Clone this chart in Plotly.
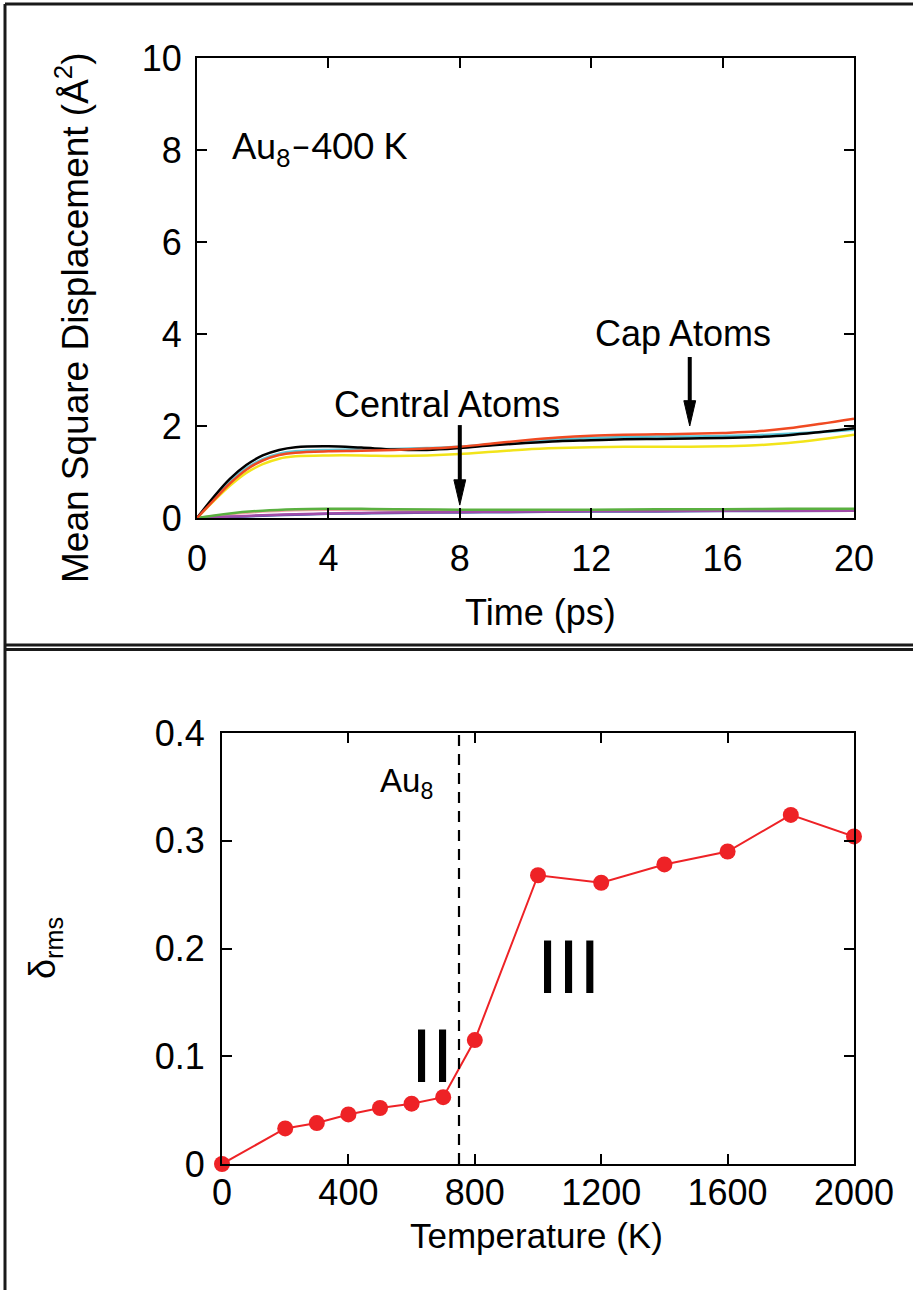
import plotly.graph_objects as go

W, H = 913, 1290
FONT = "Liberation Sans, Arial, sans-serif"

# --- Top panel: mean square displacement of Au8 at 400 K ---
time_ps = [0, 0.5, 1, 1.5, 2, 2.5, 3, 4, 5, 6, 7, 8, 9, 10, 11, 12, 13, 14, 15, 16, 17, 18, 19, 20]
msd_black = [0, 0.45, 0.85, 1.15, 1.36, 1.48, 1.54, 1.56, 1.53, 1.49, 1.48, 1.52, 1.58, 1.63, 1.67, 1.69, 1.71, 1.72, 1.73, 1.74, 1.76, 1.80, 1.87, 1.95]
msd_cyan = [0, 0.40, 0.78, 1.08, 1.28, 1.40, 1.45, 1.48, 1.49, 1.50, 1.52, 1.55, 1.61, 1.66, 1.71, 1.74, 1.76, 1.77, 1.77, 1.78, 1.80, 1.83, 1.87, 1.92]
msd_red = [0, 0.38, 0.75, 1.05, 1.25, 1.37, 1.42, 1.45, 1.46, 1.48, 1.51, 1.55, 1.62, 1.69, 1.75, 1.79, 1.81, 1.82, 1.83, 1.85, 1.88, 1.95, 2.05, 2.16]
msd_yellow = [0, 0.36, 0.70, 0.98, 1.17, 1.29, 1.34, 1.36, 1.36, 1.35, 1.36, 1.39, 1.44, 1.49, 1.52, 1.54, 1.55, 1.55, 1.55, 1.56, 1.58, 1.63, 1.71, 1.81]

time_core = [0, 1, 2, 3, 4, 5, 6, 8, 10, 12, 14, 16, 18, 20]
msd_green = [0, 0.10, 0.16, 0.19, 0.20, 0.20, 0.19, 0.18, 0.18, 0.18, 0.19, 0.19, 0.20, 0.20]
msd_pink = [0, 0.08, 0.14, 0.17, 0.18, 0.18, 0.17, 0.17, 0.17, 0.17, 0.17, 0.18, 0.18, 0.18]
msd_purple = [0, 0.03, 0.06, 0.08, 0.10, 0.11, 0.12, 0.13, 0.14, 0.15, 0.15, 0.16, 0.16, 0.16]
msd_blue = [0, 0.02, 0.05, 0.07, 0.09, 0.10, 0.11, 0.12, 0.13, 0.14, 0.14, 0.15, 0.15, 0.16]

# arrows marking the two atom groups: (time, tail value, tip value)
group_arrows = [(15, 3.5, 2.0), (8, 2.02, 0.28)]

# --- Bottom panel: delta_rms versus temperature ---
temperature_K = [0, 200, 300, 400, 500, 600, 700, 800, 1000, 1200, 1400, 1600, 1800, 2000]
delta_rms = [0, 0.033, 0.038, 0.046, 0.052, 0.056, 0.062, 0.115, 0.268, 0.261, 0.278, 0.290, 0.324, 0.304]
melt_T = 750

top_x_ticks = [0, 4, 8, 12, 16, 20]
top_y_ticks = [0, 2, 4, 6, 8, 10]
bot_x_ticks = [0, 400, 800, 1200, 1600, 2000]
bot_y_ticks = [0, 0.1, 0.2, 0.3, 0.4]
bot_y_labels = ["0", "0.1", "0.2", "0.3", "0.4"]

fig = go.Figure()

core_series = [
    (msd_pink, "#F4A0A8"),
    (msd_blue, "#4458A8"),
    (msd_purple, "#A04CA8"),
    (msd_green, "#5AB040"),
]
for vals, col in core_series:
    fig.add_trace(go.Scatter(x=time_core, y=vals, mode="lines", line=dict(color=col, width=2.5, shape="spline"),
                             xaxis="x", yaxis="y", showlegend=False))

cap_series = [
    (msd_yellow, "#F2E41A"),
    (msd_cyan, "#5CC6D8"),
    (msd_black, "#000000"),
    (msd_red, "#F04A22"),
]
for vals, col in cap_series:
    fig.add_trace(go.Scatter(x=time_ps, y=vals, mode="lines", line=dict(color=col, width=2.5, shape="spline"),
                             xaxis="x", yaxis="y", showlegend=False))

fig.add_trace(go.Scatter(x=temperature_K, y=delta_rms, mode="lines+markers",
                         line=dict(color="#EE2226", width=2),
                         marker=dict(color="#EE2226", size=16),
                         cliponaxis=False, xaxis="x2", yaxis="y2", showlegend=False))

# plot-area pixel boxes
TOP = dict(l=197, r=854, t=58, b=518)
BOT = dict(l=222, r=854, t=733, b=1164)

def dom_x(b):
    return [b["l"] / W, b["r"] / W]

def dom_y(b):
    return [1 - b["b"] / H, 1 - b["t"] / H]

axis_common = dict(showline=True, linecolor="black", linewidth=2, mirror="ticks", ticks="inside",
                   ticklen=10, tickwidth=1.5, tickcolor="black", showgrid=False, zeroline=False,
                   automargin=False, tickfont=dict(family=FONT, size=36, color="black"))

fig.update_layout(
    width=W, height=H, margin=dict(l=0, r=0, t=0, b=0, autoexpand=False), autosize=False,
    paper_bgcolor="white", plot_bgcolor="white",
    xaxis=dict(domain=dom_x(TOP), range=[0, 20], tickvals=top_x_ticks, anchor="y", ticklabelstandoff=8, **axis_common),
    yaxis=dict(domain=dom_y(TOP), range=[0, 10], tickvals=top_y_ticks, anchor="x", ticklabelstandoff=6, **axis_common),
    xaxis2=dict(domain=dom_x(BOT), range=[0, 2000], tickvals=bot_x_ticks, anchor="y2", ticklabelstandoff=-4, **axis_common),
    yaxis2=dict(domain=dom_y(BOT), range=[0, 0.4], tickvals=bot_y_ticks, ticktext=bot_y_labels, anchor="x2",
                ticklabelstandoff=8, **axis_common),
)

# panel frames
frame = dict(color="#1a1a1a", width=3)
fig.add_shape(type="line", xref="paper", yref="paper", x0=5 / W, x1=1, y0=1 - 4 / H, y1=1 - 4 / H, line=frame)
fig.add_shape(type="line", xref="paper", yref="paper", x0=5 / W, x1=5 / W, y0=0, y1=1 - 4 / H, line=frame)
fig.add_shape(type="line", xref="paper", yref="paper", x0=5 / W, x1=1, y0=1 - 645 / H, y1=1 - 645 / H, line=frame)
fig.add_shape(type="line", xref="paper", yref="paper", x0=5 / W, x1=1, y0=1 - 649.5 / H, y1=1 - 649.5 / H, line=frame)

# transition temperature marker
fig.add_shape(type="line", xref="x2", yref="y2", x0=melt_T, x1=melt_T, y0=0, y1=0.4,
              line=dict(color="black", width=2.2, dash="11px,8px"))

# group arrows: a thick shaft plus a narrow head, both drawn as shapes in data units
for t, y_tail, y_tip in group_arrows:
    head_len = 0.55
    fig.add_shape(type="line", xref="x", yref="y", x0=t, x1=t, y0=y_tail, y1=y_tip + head_len * 0.8,
                  line=dict(color="black", width=4))
    fig.add_shape(type="path", xref="x", yref="y", fillcolor="black", line=dict(color="black", width=1),
                  path=f"M {t - 0.18},{y_tip + head_len} L {t + 0.18},{y_tip + head_len} L {t},{y_tip} Z")

def txt(x, y, s, size=36, xref="paper", yref="paper", xanchor="center", yanchor="middle", angle=0, family=FONT):
    fig.add_annotation(x=x, y=y, xref=xref, yref=yref, text=s, showarrow=False, xanchor=xanchor,
                       yanchor=yanchor, textangle=angle, font=dict(family=family, size=size, color="black"))

# axis titles
txt(540 / W, 1 - 612 / H, "Time (ps)")
txt(72 / W, 1 - 318 / H, "Mean Square Displacement (Å<sup>2</sup>)", size=37, angle=-90)
txt(536 / W, 1 - 1235 / H, "Temperature (K)", size=35)
txt(45 / W, 1 - 948 / H, "δ<sub>rms</sub>", angle=-90)

# top panel labels
txt(1.0, 8.05, "Au<sub>8</sub>–400 K", size=36, xref="x", yref="y", xanchor="left", family="Lato, sans-serif")
txt(14.8, 4.02, "Cap Atoms", xref="x", yref="y")
txt(7.6, 2.46, "Central Atoms", xref="x", yref="y")

# bottom panel labels
txt(494, 0.354, "Au<sub>8</sub>", size=33, xref="x2", yref="y2", xanchor="left")
txt(664, 0.101, "II", size=76, xref="x2", yref="y2")
txt(1095, 0.183, "III", size=76, xref="x2", yref="y2")

fig.write_html(
    "out.html",
    config={"responsive": False},
    post_script="document.body.style.margin='0';document.body.style.overflow='hidden';",
)
